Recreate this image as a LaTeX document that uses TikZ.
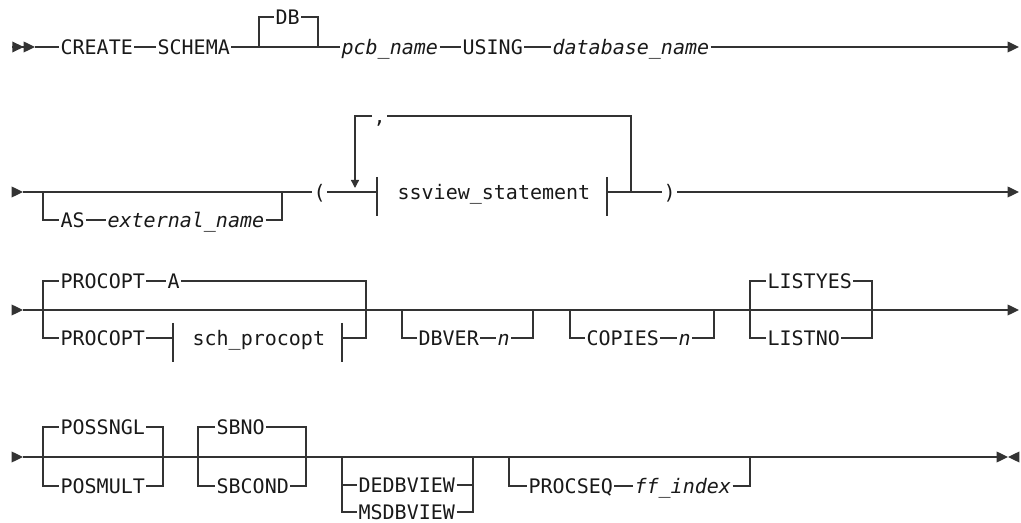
\documentclass[tikz,border=0pt]{standalone}
\usepackage{fontspec}
\setmonofont{DejaVu Sans Mono}
\usetikzlibrary{arrows.meta}
\newcommand{\rrfont}{\ttfamily\fontsize{15}{18}\selectfont}
\tikzstyle{rail} = [line width=1pt, draw=black!80]
\tikzstyle{kw} = [anchor=west, inner xsep=1pt, inner ysep=0pt, text height=11pt, text depth=0pt, font=\rrfont, text=black!90]
\tikzstyle{ph} = [kw, font=\rrfont\itshape]
\tikzstyle{railend} = [-{Triangle[length=8.5pt,width=8pt]}]
\tikzstyle{looptip} = [-{Triangle[length=6pt,width=6pt]}]
\begin{document}
\begin{tikzpicture}[x=0.75pt, y=-0.75pt]
      \useasboundingbox (0,0) rectangle (1021,523);
      % row 1
      \coordinate (r1s) at (12,47);
      \coordinate (r1m) at (35,47);
      \coordinate (r1e) at (1019,47);
      \node (create)[kw] at (59,47) {CREATE};
      \node (schema)[kw] at (156,47) {SCHEMA};
      \coordinate (c1l) at (259,47);
      \coordinate (c1r) at (318,47);
      \node (db)[kw] at (274,17) {DB};
      \node (pcb)[ph] at (340,47) {pcb\_name};
      \node (using)[kw] at (461,47) {USING};
      \node (dbname)[ph] at (551,47) {database\_name};
      \draw[rail, -{Triangle[length=8.5pt,width=8pt] Triangle[length=8.5pt,width=8pt]}] (r1s) -- (r1m);
      \draw[rail] (r1m) -- (create) -- (schema) -- (pcb) -- (using) -- (dbname);
      \draw[rail, railend] (dbname) -- (r1e);
      \draw[rail] (c1l) |- (db) -| (c1r);
      % row 2
      \coordinate (r2s) at (12,192);
      \coordinate (r2m) at (23,192);
      \coordinate (r2e) at (1019,192);
      \coordinate (c2l) at (43,192);
      \coordinate (c2r) at (282,192);
      \node (as)[kw] at (59,220) {AS};
      \node (extname)[ph] at (106,220) {external\_name};
      \node (lparen)[kw] at (312,192) {(};
      \coordinate (ssl) at (377,192);
      \coordinate (ssr) at (607,192);
      \node (ssview)[kw] at (396,192) {ssview\_statement};
      \coordinate (loopl) at (355,188);
      \coordinate (loopr) at (631,192);
      \node (comma)[kw] at (372,116) {,};
      \node (rparen)[kw] at (662,192) {)};
      \draw[rail, railend] (r2s) -- (r2m);
      \draw[rail] (r2m) -- (lparen) -- (ssl);
      \draw[rail] (c2l) |- (as) -- (extname) -| (c2r);
      \draw[rail] (ssl) ++(0,-15) -- ++(0,39);
      \draw[rail] (ssr) ++(0,-15) -- ++(0,39);
      \draw[rail] (ssr) -- (rparen);
      \draw[rail, railend] (rparen) -- (r2e);
      \draw[rail] (loopr) |- (comma);
      \draw[rail, looptip] (comma) -| (loopl);
      % row 3
      \coordinate (r3s) at (12,310);
      \coordinate (r3m) at (23,310);
      \coordinate (r3e) at (1019,310);
      \coordinate (c3l) at (43,310);
      \coordinate (c3r) at (366,310);
      \node (popa)[kw] at (59,281) {PROCOPT};
      \node (opta)[kw] at (166,281) {A};
      \node (popb)[kw] at (59,338) {PROCOPT};
      \coordinate (spl) at (173,338);
      \coordinate (spr) at (342,338);
      \node (schp)[kw] at (191,338) {sch\_procopt};
      \coordinate (c4l) at (402,310);
      \coordinate (c4r) at (533,310);
      \node (dbver)[kw] at (417,338) {DBVER};
      \node (dbvn)[ph] at (496,338) {n};
      \coordinate (c5l) at (570,310);
      \coordinate (c5r) at (714,310);
      \node (copies)[kw] at (585,338) {COPIES};
      \node (copn)[ph] at (677,338) {n};
      \coordinate (c6l) at (750,310);
      \coordinate (c6r) at (872,310);
      \node (listyes)[kw] at (766,281) {LISTYES};
      \node (listno)[kw] at (766,338) {LISTNO};
      \draw[rail, railend] (r3s) -- (r3m);
      \draw[rail, railend] (r3m) -- (r3e);
      \draw[rail] (c3l) |- (popa) -- (opta) -| (c3r);
      \draw[rail] (c3l) |- (popb) -- (spl);
      \draw[rail] (spl) ++(0,-15) -- ++(0,39);
      \draw[rail] (spr) ++(0,-15) -- ++(0,39);
      \draw[rail] (spr) -| (c3r);
      \draw[rail] (c4l) |- (dbver) -- (dbvn) -| (c4r);
      \draw[rail] (c5l) |- (copies) -- (copn) -| (c5r);
      \draw[rail] (c6l) |- (listyes) -| (c6r);
      \draw[rail] (c6l) |- (listno) -| (c6r);
      % row 4
      \coordinate (r4s) at (12,457);
      \coordinate (r4m) at (23,457);
      \coordinate (r4e) at (1008,457);
      \coordinate (r4f) at (1019,457);
      \coordinate (c7l) at (43,457);
      \coordinate (c7r) at (163,457);
      \node (possngl)[kw] at (59,427) {POSSNGL};
      \node (posmult)[kw] at (59,486) {POSMULT};
      \coordinate (c8l) at (198,457);
      \coordinate (c8r) at (306,457);
      \node (sbno)[kw] at (215,427) {SBNO};
      \node (sbcond)[kw] at (215,486) {SBCOND};
      \coordinate (c9l) at (342,457);
      \coordinate (c9r) at (473,457);
      \node (dedb)[kw] at (357,485) {DEDBVIEW};
      \node (msdb)[kw] at (357,512) {MSDBVIEW};
      \coordinate (c10l) at (509,457);
      \coordinate (c10r) at (750,457);
      \node (procseq)[kw] at (527,486) {PROCSEQ};
      \node (ffidx)[ph] at (633,486) {ff\_index};
      \draw[rail, railend] (r4s) -- (r4m);
      \draw[rail, railend] (r4m) -- (r4e);
      \draw[rail, railend] (r4f) -- (r4e);
      \draw[rail] (c7l) |- (possngl) -| (c7r);
      \draw[rail] (c7l) |- (posmult) -| (c7r);
      \draw[rail] (c8l) |- (sbno) -| (c8r);
      \draw[rail] (c8l) |- (sbcond) -| (c8r);
      \draw[rail] (c9l) |- (dedb) -| (c9r);
      \draw[rail] (c9l) |- (msdb) -| (c9r);
      \draw[rail] (c10l) |- (procseq) -- (ffidx) -| (c10r);
    \end{tikzpicture}
\end{document}
